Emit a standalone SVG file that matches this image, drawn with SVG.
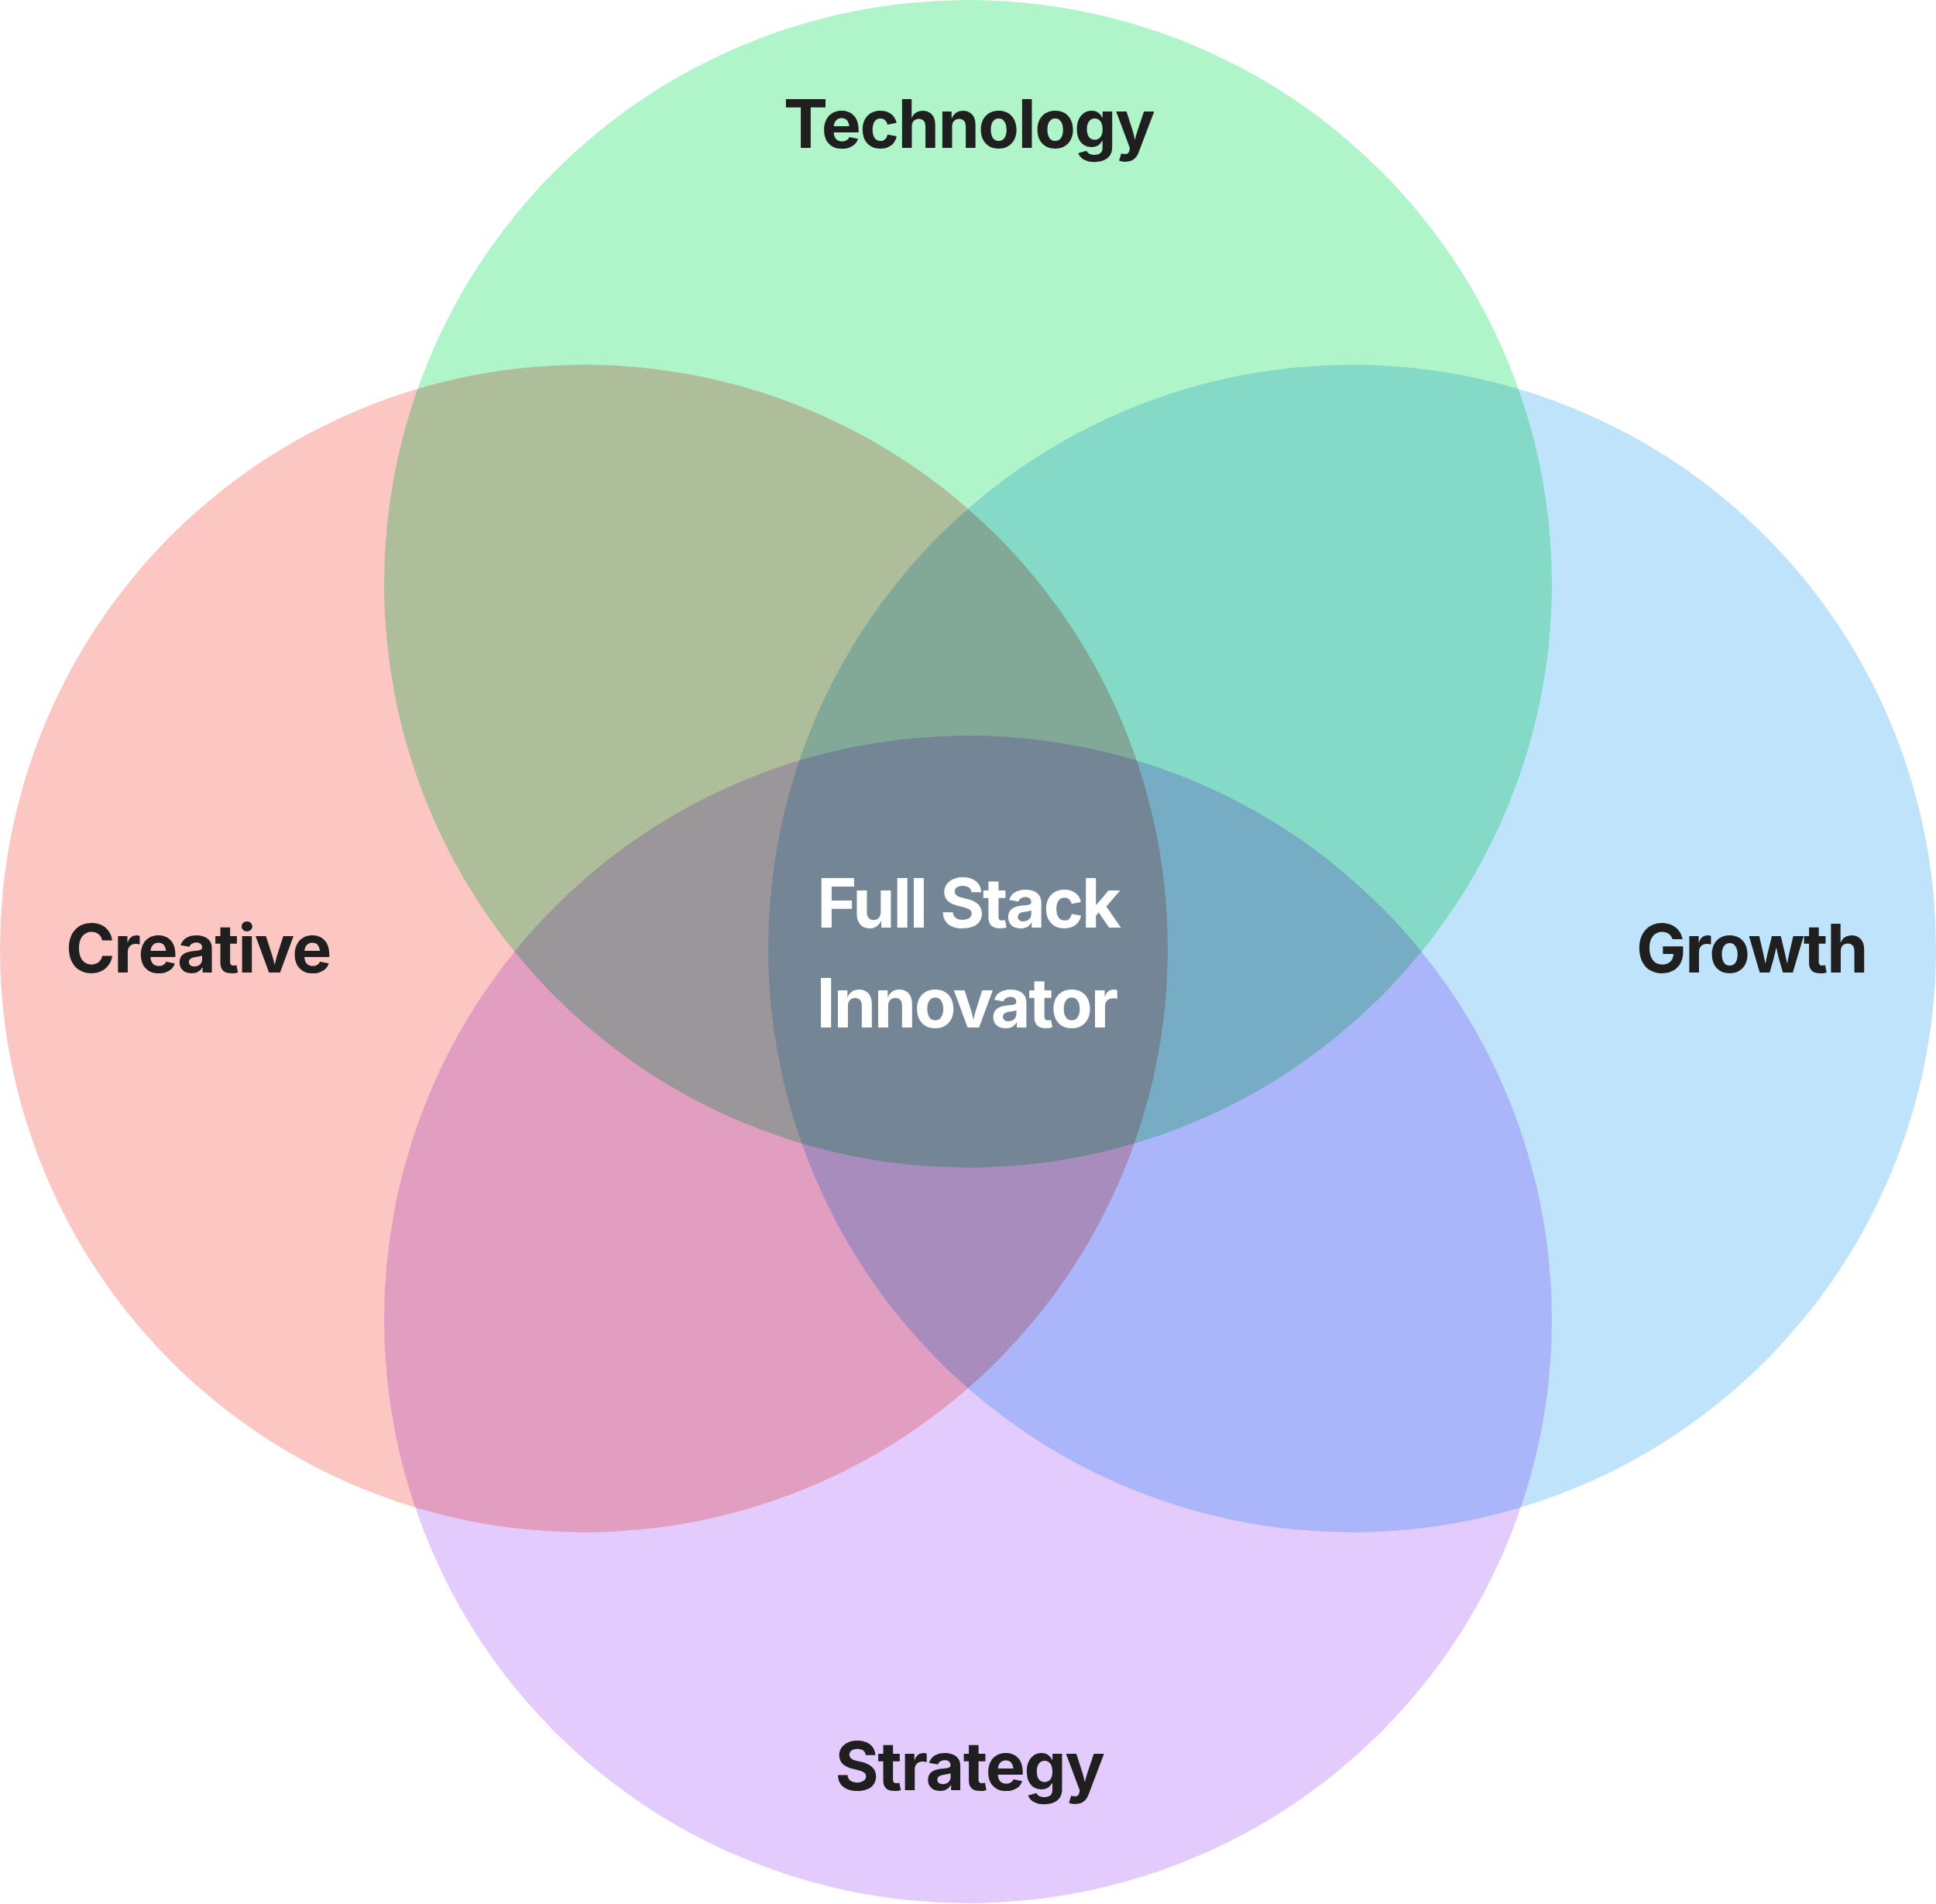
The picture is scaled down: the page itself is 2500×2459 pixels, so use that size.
<svg xmlns="http://www.w3.org/2000/svg" width="2500" height="2459" viewBox="0 0 2500 2459">
<style>
.c{mix-blend-mode:multiply}
.lbl{font-family:Inter,"Liberation Sans",sans-serif;font-weight:700;font-size:86px;fill:#1f1f1f;text-anchor:middle;letter-spacing:-1.6px}
.ctr{font-family:Inter,"Liberation Sans",sans-serif;font-weight:700;font-size:88px;fill:#ffffff;text-anchor:middle;letter-spacing:-2.6px}
</style>
<rect width="2500" height="2459" fill="#ffffff"/>
<g id="shapes" style="isolation:isolate">
<g id="technology"><circle class="c" cx="1250" cy="754" r="754" fill="#b0f4ca"/></g>
<g id="creative"><circle class="c" cx="754" cy="1225" r="754" fill="#fcc6c3"/></g>
<g id="growth"><circle class="c" cx="1746" cy="1225" r="754" fill="#bfe3fb"/></g>
<g id="strategy"><circle class="c" cx="1250" cy="1704" r="754" fill="#e4cbfd"/></g>
</g>
<g id="connectors"/>
<g id="labels">
<text class="lbl" x="1251" y="191">Technology</text>
<text class="lbl" x="256" y="1256">Creative</text>
<text class="lbl" x="2262" y="1256">Growth</text>
<text class="lbl" x="1252" y="2312">Strategy</text>
<text class="ctr" x="1250" y="1198">Full Stack</text>
<text class="ctr" x="1248" y="1327">Innovator</text>
</g>
</svg>
